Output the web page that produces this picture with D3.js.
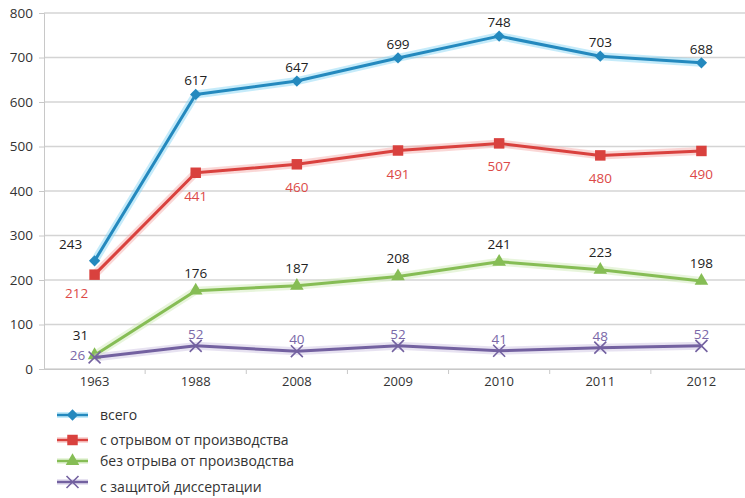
<!DOCTYPE html>
<html>
<head>
<meta charset="utf-8">
<script src="https://cdn.jsdelivr.net/npm/d3@7"></script>
<style>
  html, body { margin: 0; padding: 0; background: #ffffff; }
  svg { display: block; }
  text { font-family: "Open Sans", "Noto Sans", sans-serif; }
</style>
</head>
<body>
<svg id="chart" width="745" height="498"></svg>
<script>
// Years on the category axis
const years = ["1963", "1988", "2008", "2009", "2010", "2011", "2012"];
// Series values
const total       = [243, 617, 647, 699, 748, 703, 688];
const fullTime    = [212, 441, 460, 491, 507, 480, 490];
const partTime    = [31, 176, 187, 208, 241, 223, 198];
const withDefense = [26, 52, 40, 52, 41, 48, 52];
// Series names shown in the legend
const seriesNames = [
  "всего",
  "с отрывом от производства",
  "без отрыва от производства",
  "с защитой диссертации"
];
// Value axis ticks
const yTicks = [0, 100, 200, 300, 400, 500, 600, 700, 800];

const series = [
  { name: seriesNames[0], values: total,       core: "#2489be", halo: "#7fd3f3", marker: "diamond",  labelColor: "#222", labelDy: -13 },
  { name: seriesNames[1], values: fullTime,    core: "#d9413e", halo: "#f4a6a4", marker: "square",   labelColor: "#dc4a47", labelDy: 24 },
  { name: seriesNames[2], values: partTime,    core: "#86bd55", halo: "#cde8b2", marker: "triangle", labelColor: "#222", labelDy: -17 },
  { name: seriesNames[3], values: withDefense, core: "#7361a0", halo: "#c9bfe0", marker: "cross",    labelColor: "#7a68a8", labelDy: -11 }
];

const svg = d3.select("#chart");
const plotLeft = 44, plotRight = 752, plotTop = 13, plotBottom = 369;

const x = d3.scaleBand().domain(years).range([plotLeft, plotRight]);
const y = d3.scaleLinear().domain([0, 800]).range([plotBottom, plotTop]);

// Gridlines
svg.append("g").selectAll("line").data(yTicks).join("line")
  .attr("x1", plotLeft).attr("x2", 745)
  .attr("y1", d => y(d)).attr("y2", d => y(d))
  .attr("stroke", "#d4d4d4").attr("stroke-width", 1.3);

// Value axis
const yAxis = svg.append("g").attr("transform", `translate(${plotLeft},0)`)
  .call(d3.axisLeft(y).tickValues(yTicks).tickSize(5).tickPadding(6));
yAxis.select(".domain").attr("stroke", "#c8c8c8");
yAxis.selectAll(".tick line").attr("stroke", "#c8c8c8");
yAxis.selectAll(".tick text").attr("font-size", 13.5).attr("fill", "#333")
  .attr("font-family", "'Open Sans', sans-serif");

// Category axis
const xAxis = svg.append("g").attr("transform", `translate(0,${plotBottom})`)
  .call(d3.axisBottom(x).tickSize(0).tickPadding(8));
xAxis.select(".domain").attr("stroke", "#c8c8c8");
xAxis.selectAll(".tick text").attr("font-size", 13).attr("fill", "#333")
  .attr("font-family", "'Open Sans', sans-serif");
// Tick marks between categories
const bounds = years.slice(1).map(d => x(d));
xAxis.append("g").selectAll("line").data(bounds).join("line")
  .attr("x1", d => d).attr("x2", d => d).attr("y1", 0).attr("y2", 5)
  .attr("stroke", "#c8c8c8");

const cx = d => x(d) + x.bandwidth() / 2;
const line = d3.line().x(d => cx(d.year)).y(d => y(d.value));

const symbolFor = {
  diamond:  d3.symbol().type(d3.symbolSquare).size(64),
  square:   d3.symbol().type(d3.symbolSquare).size(110),
  triangle: d3.symbol().type(d3.symbolTriangle).size(80),
  cross:    d3.symbol().type(d3.symbolX).size(95)
};

function drawMarker(g, s, px, py) {
  if (s.marker === "cross") {
    g.append("path").attr("d", symbolFor.cross())
      .attr("transform", `translate(${px},${py})`)
      .attr("fill", "none").attr("stroke", s.core).attr("stroke-width", 1.6);
  } else {
    const rot = s.marker === "diamond" ? " rotate(45)" : "";
    g.append("path").attr("d", symbolFor[s.marker]())
      .attr("transform", `translate(${px},${py})${rot}`)
      .attr("fill", s.core);
  }
}

const plot = svg.append("g");
series.forEach(s => {
  const pts = s.values.map((v, i) => ({ year: years[i], value: v }));
  // soft glow under the line
  plot.append("path").datum(pts).attr("d", line)
    .attr("fill", "none").attr("stroke", s.halo).attr("stroke-width", 8)
    .attr("stroke-opacity", 0.45).attr("stroke-linejoin", "round");
  plot.append("path").datum(pts).attr("d", line)
    .attr("fill", "none").attr("stroke", s.core).attr("stroke-width", 3)
    .attr("stroke-linejoin", "round");
  pts.forEach(p => drawMarker(plot, s, cx(p.year), y(p.value)));
});

// Value labels
const labels = svg.append("g").attr("font-size", 13.5).attr("text-anchor", "middle");
series.forEach((s, si) => {
  s.values.forEach((v, i) => {
    let lx = cx(years[i]), ly = y(v) + s.labelDy + 4;
    if (i === 0) {
      // first column: labels are set to the left of the crowded points
      if (si === 0) { lx -= 24; ly = y(v) - 12; }
      if (si === 1) { lx -= 18; ly = y(v) + 23; }
      if (si === 2) { lx -= 14; ly = y(v) - 15; }
      if (si === 3) { lx -= 17; ly = y(v) + 3; }
    }
    labels.append("text").attr("x", lx).attr("y", ly)
      .attr("fill", s.labelColor).text(v);
  });
});

// Legend
const legend = svg.append("g");
const legendY = [415, 440, 461, 482];
const textDy = [5, 5, 5, 10];
series.forEach((s, i) => {
  const gy = legendY[i];
  legend.append("line").attr("x1", 57).attr("x2", 88).attr("y1", gy).attr("y2", gy)
    .attr("stroke", s.halo).attr("stroke-width", 6).attr("stroke-opacity", 0.45);
  legend.append("line").attr("x1", 57).attr("x2", 88).attr("y1", gy).attr("y2", gy)
    .attr("stroke", s.core).attr("stroke-width", 2.5);
  drawMarker(legend, s, 72.5, gy);
  legend.append("text").attr("x", 100).attr("y", gy + textDy[i])
    .attr("font-size", 14).attr("fill", "#333").text(s.name);
});
</script>
</body>
</html>
